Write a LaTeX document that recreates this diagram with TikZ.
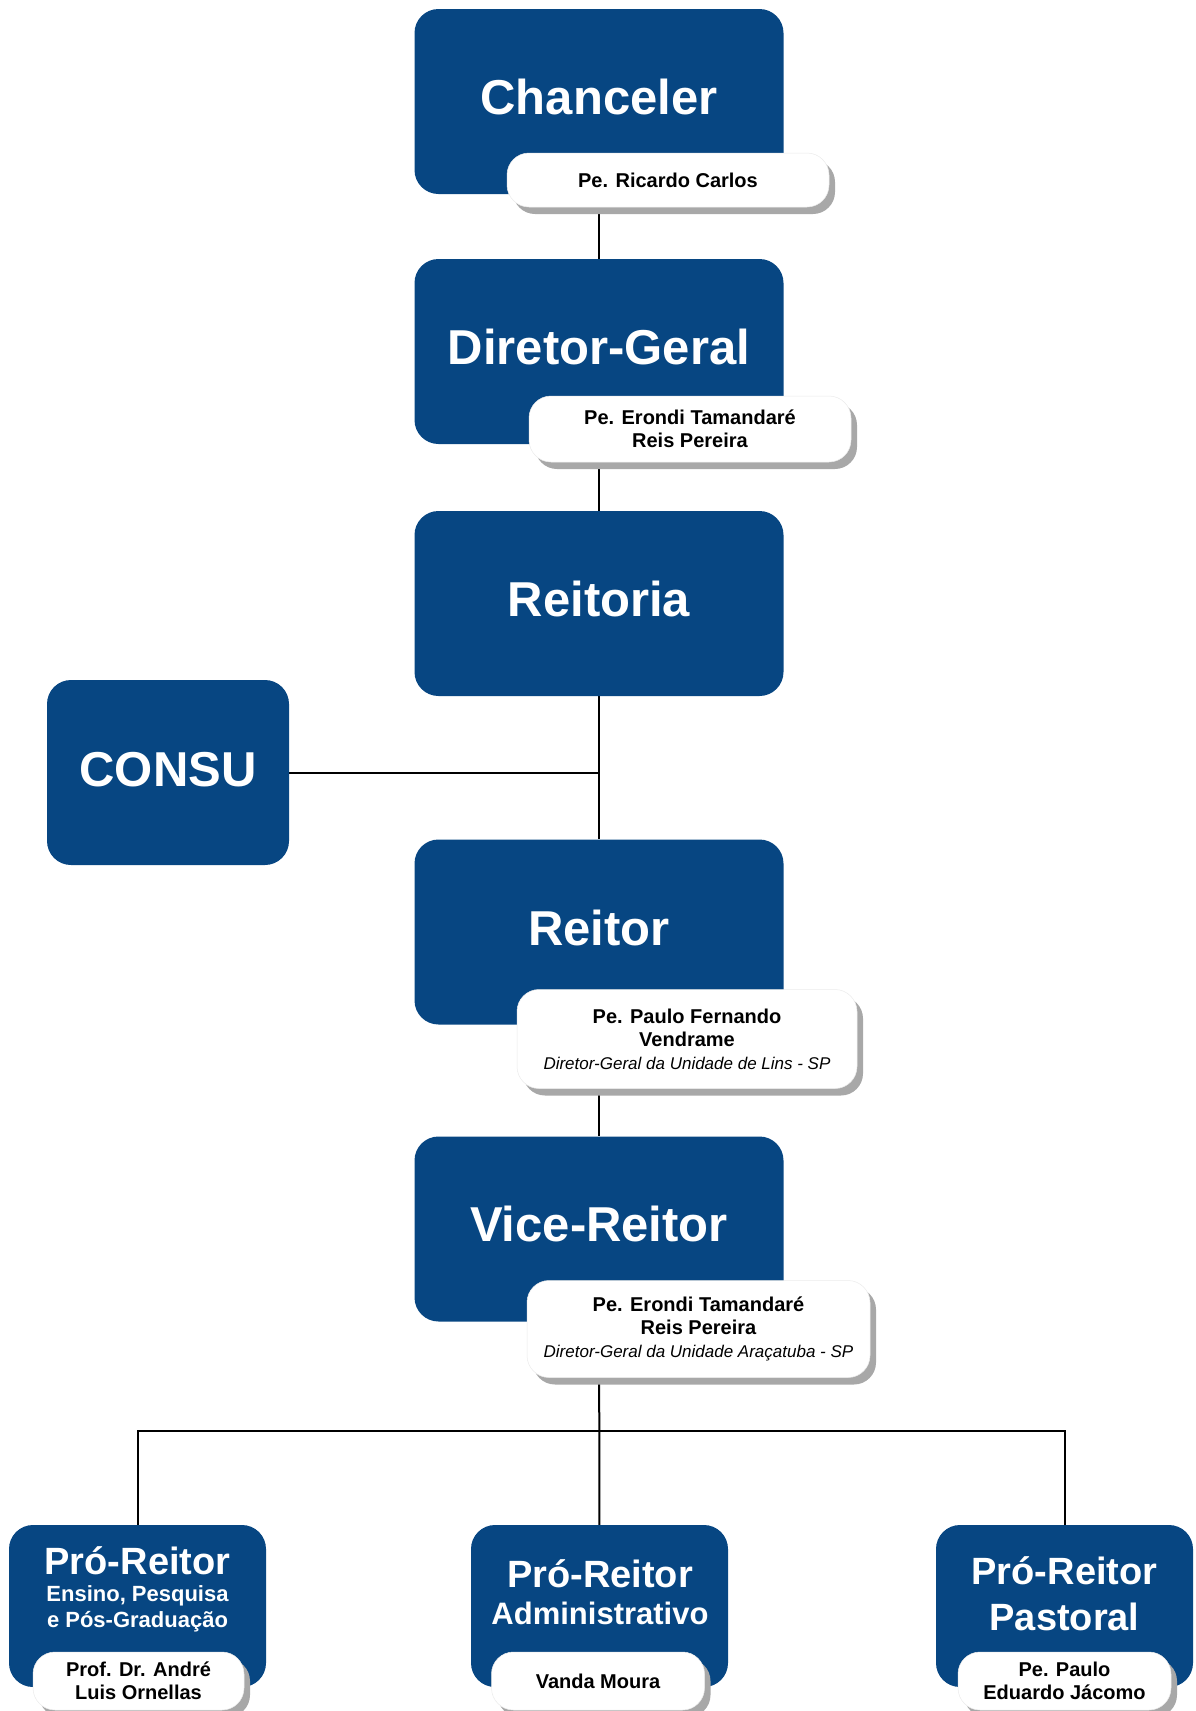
\documentclass[tikz,border=0pt]{standalone}
\usepackage{fontspec}
\setmainfont{Liberation Sans}
\usetikzlibrary{shadows,backgrounds}
\definecolor{ublue}{HTML}{074682}
\definecolor{shgray}{HTML}{A8A8A8}
\tikzset{
 bluebox/.style={rectangle, fill=ublue, rounded corners=24pt, inner sep=0pt, minimum width=369pt, minimum height=185pt},
 pbox/.style={rectangle, fill=ublue, rounded corners=24pt, inner sep=0pt, minimum width=257pt, minimum height=162pt},
 namebox/.style={rectangle, fill=white, draw=black!8, line width=0.5pt, rounded corners=22pt, inner sep=0pt, align=center,
   font=\bfseries\fontsize{20}{23}\selectfont,
   drop shadow={shadow xshift=6pt, shadow yshift=-7pt, fill=shgray, draw=none, opacity=1}},
 ttl/.style={text=white, font=\bfseries\fontsize{49}{55}\selectfont, inner sep=0pt},
 pttl/.style={text=white, font=\bfseries\fontsize{38}{44}\selectfont, inner sep=0pt, anchor=base},
 psub/.style={text=white, font=\bfseries\fontsize{22}{26}\selectfont, inner sep=0pt, anchor=base},
 pmid/.style={text=white, font=\bfseries\fontsize{31}{36}\selectfont, inner sep=0pt, anchor=base},
 conn/.style={draw=black, line width=2pt},
}
\newcommand{\subline}[1]{{\itshape\mdseries\fontsize{17}{23}\selectfont #1}}
\begin{document}
\begin{tikzpicture}[x=1pt,y=-1pt]
\useasboundingbox (0,0) rectangle (1195,1711);
\clip (0,0) rectangle (1195,1711);

% Chanceler
\node[bluebox] (chb) at (599,101.5) {};
\node[ttl] (cht) at (599,97) {Chanceler};
\node[namebox, minimum width=322pt, minimum height=54pt] (chn) at (668,180) {Pe. Ricardo Carlos};

% Diretor-Geral
\node[bluebox] (dgb) at (599,351.5) {};
\node[ttl] (dgt) at (599,347) {Diretor-Geral};
\node[namebox, minimum width=322pt, minimum height=66pt] (dgn) at (690,429) {Pe. Erondi Tamandaré\\Reis Pereira};

% Reitoria
\node[bluebox] (rtb) at (599,603.5) {};
\node[ttl] (rtt) at (599,599) {Reitoria};

% CONSU
\node[bluebox, minimum width=242pt] (csb) at (168,772.5) {};
\node[ttl] (cst) at (168,770) {CONSU};

% Reitor
\node[bluebox] (reb) at (599,932) {};
\node[ttl] (ret) at (599,928) {Reitor};
\node[namebox, minimum width=340pt, minimum height=99pt] (ren) at (687,1039) {Pe. Paulo Fernando\\Vendrame\\\subline{Diretor-Geral da Unidade de Lins - SP}};

% Vice-Reitor
\node[bluebox] (vrb) at (599,1229) {};
\node[ttl] (vrt) at (599,1224) {Vice-Reitor};
\node[namebox, minimum width=343pt, minimum height=97pt] (vrn) at (698.5,1329) {Pe. Erondi Tamandaré\\Reis Pereira\\\subline{Diretor-Geral da Unidade Araçatuba - SP}};

% Pro-Reitores
\node[pbox] (p1b) at (137.5,1606) {};
\node[pttl] (p1t) at (137.5,1574) {Pró-Reitor};
\node[psub] (p1s) at (137.5,1601) {Ensino, Pesquisa};
\node[psub] (p1u) at (137.5,1627) {e Pós-Graduação};
\node[namebox, minimum width=211pt, minimum height=58pt] (p1n) at (138.5,1681) {Prof. Dr. André\\Luis Ornellas};

\node[pbox] (p2b) at (599.5,1606) {};
\node[pttl] (p2t) at (600,1587) {Pró-Reitor};
\node[pmid] (p2s) at (600,1624) {Administrativo};
\node[namebox, minimum width=213pt, minimum height=58pt] (p2n) at (598,1681) {Vanda Moura};

\node[pbox] (p3b) at (1064.5,1606) {};
\node[pttl] (p3t) at (1064.5,1584) {Pró-Reitor};
\node[pttl] (p3s) at (1064.5,1630) {Pastoral};
\node[namebox, minimum width=213pt, minimum height=58pt] (p3n) at (1064.5,1681) {Pe. Paulo\\Eduardo Jácomo};

\coordinate (bus) at (599,1431);

\begin{pgfonlayer}{background}
\draw[conn] (chb) -- (dgb);
\draw[conn] (dgb) -- (rtb);
\draw[conn] (rtb) -- (reb);
\draw[conn] (csb) -- (csb -| rtb);
\draw[conn] (reb) -- (vrb);
\draw[conn] (vrb) -- (p2b);
\draw[conn] (p1b) -- (p1b |- bus) -- (p3b |- bus) -- (p3b);
\end{pgfonlayer}
\end{tikzpicture}
\end{document}
